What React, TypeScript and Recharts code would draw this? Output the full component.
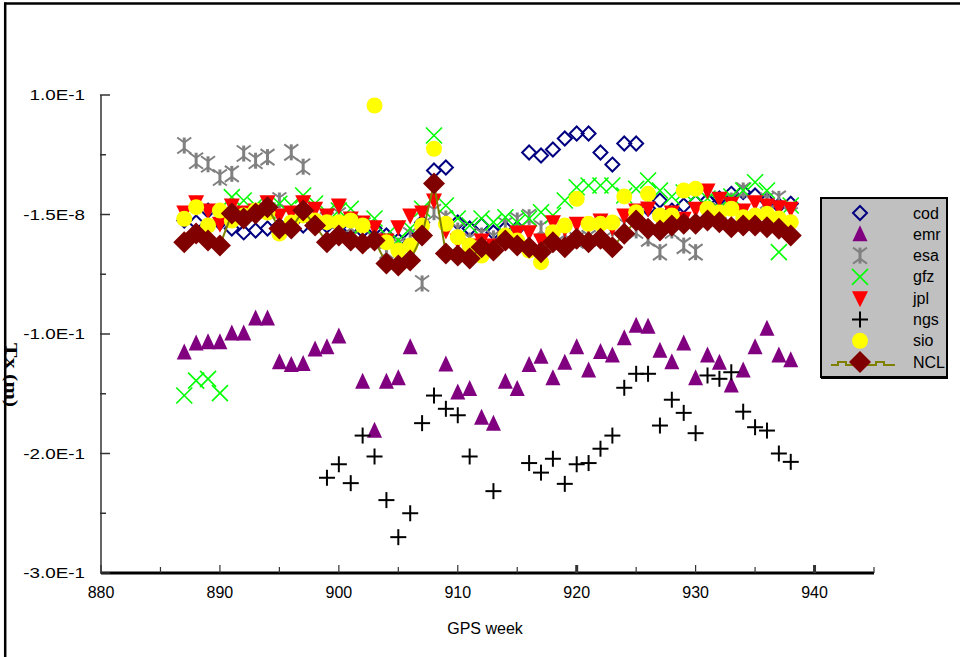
import React from 'react';
import { ScatterChart, Scatter, XAxis, YAxis, Legend } from 'recharts';

// ---------- data ----------
const weeks = [
  887, 888, 889, 890, 891, 892, 893, 894, 895, 896,
  897, 898, 899, 900, 901, 902, 903, 904, 905, 906,
  907, 908, 909, 910, 911, 912, 913, 914, 915, 916,
  917, 918, 919, 920, 921, 922, 923, 924, 925, 926,
  927, 928, 929, 930, 931, 932, 933, 934, 935, 936,
  937, 938,
];

const cod = [
  -0.005, -0.0067, 0.0033, -0.0067, -0.0117, -0.015, -0.0134, -0.0117, -0.0092, -0.0067,
  -0.0092, -0.005, -0.0092, -0.0067, -0.0117, -0.0134, -0.0117, -0.0176, -0.0218, -0.02,
  -0.0067, 0.0368, 0.0393, -0.0067, -0.0117, -0.0092, -0.015, -0.0117, -0.0117, 0.0519,
  0.0494, 0.0544, 0.0636, 0.0678, 0.0678, 0.0519, 0.0418, 0.0594, 0.0594, 0.005,
  0.0117, 0.0033, 0.0075, 0.01, 0.0117, 0.0134, 0.0173, 0.0187, 0.0159, 0.0117,
  0.0075, 0.009,
];

const emr = [
  -0.1155, -0.108, -0.107, -0.107, -0.0996, -0.0996, -0.087, -0.087, -0.1236, -0.126,
  -0.125, -0.113, -0.111, -0.102, null, -0.14, -0.181, -0.14, -0.137, -0.111,
  null, null, -0.1255, -0.149, -0.146, -0.17, -0.175, -0.14, -0.146, -0.126,
  -0.119, -0.137, -0.124, -0.111, -0.1305, -0.115, -0.118, -0.1035, -0.093, -0.094,
  -0.114, -0.1236, -0.108, -0.137, -0.118, -0.124, -0.143, -0.1305, -0.111, -0.0956,
  -0.118, -0.122,
];

const esa = [
  0.0577, 0.045, 0.042, 0.031, 0.034, 0.051, 0.045, 0.048, 0.0117, 0.052,
  0.04, 0.0033, -0.005, -0.0008, -0.0092, -0.0176, -0.0218, -0.0301, -0.026, -0.0176,
  -0.0577, 0.0019, -0.0033, -0.0134, -0.0218, -0.0176, -0.02, -0.0092, -0.005, -0.0023,
  -0.0117, -0.0176, -0.015, -0.0218, -0.02, -0.015, -0.0117, -0.0092, -0.0134, -0.02,
  -0.0315, -0.0134, -0.026, -0.0315, -0.0008, 0.0033, 0.0117, 0.0201, 0.0075, 0.0117,
  0.0131, -0.0008,
];

const gfz = [
  -0.1515, -0.139, -0.1375, -0.1495, 0.0145, 0.0117, 0.0075, 0.0033, 0.009, 0.0075,
  0.0159, 0.0092, 0.0017, 0.0033, 0.0048, -0.0092, -0.0033, -0.0176, -0.0218, -0.0117,
  0.0048, 0.0661, 0.0075, -0.0033, -0.0092, -0.0033, -0.0064, -0.0023, -0.0067, -0.0033,
  0.0019, -0.0008, 0.0117, 0.0228, 0.0243, 0.0243, 0.0243, 0.0159, 0.0215, 0.0285,
  0.0201, 0.0151, 0.0184, 0.0159, 0.0134, 0.01, 0.0151, 0.0201, 0.027, 0.0201,
  -0.0315, 0.0075,
];

const jpl = [
  0.0017, 0.0103, 0.0033, -0.0078, 0.0075, 0.0017, 0.0033, 0.0103, -0.0008, 0.0017,
  0.0103, 0.0048, -0.0008, 0.0075, -0.0033, -0.0067, -0.0106, -0.0218, -0.0106, -0.0008,
  0.0017, 0.0117, -0.0134, -0.0218, -0.026, -0.0218, -0.026, -0.02, -0.015, -0.0148,
  -0.0218, -0.0064, -0.0117, -0.0078, -0.0092, -0.005, -0.0106, -0.0008, 0.0033, 0.005,
  -0.005, 0.0017, -0.0036, 0.0048, 0.0201, 0.0131, 0.009, 0.0033, 0.0103, 0.0075,
  0.0061, 0.0048,
];

const ngs = [
  null, null, null, null, null, null, null, null, null, null,
  null, null, -0.2203, -0.209, -0.2248, -0.185, -0.2025, -0.239, -0.27, -0.25,
  -0.1746, -0.1515, -0.1626, -0.168, -0.2025, null, -0.2315, null, null, -0.208,
  -0.216, -0.2044, -0.2254, -0.209, -0.208, -0.196, -0.185, -0.145, -0.1333, -0.1333,
  -0.1766, -0.155, -0.166, -0.183, -0.1347, -0.1375, -0.132, -0.165, -0.178, -0.1808,
  -0.2, -0.207,
];

const sio = [
  -0.0036, 0.0061, -0.0092, 0.0033, -0.005, -0.0008, 0.0033, 0.0017, -0.0159, -0.0067,
  -0.0008, -0.005, -0.0064, -0.0064, -0.005, -0.0092, 0.0912, -0.0232, -0.0301, -0.026,
  -0.0092, 0.055, -0.0078, -0.019, -0.026, -0.0343, -0.0301, -0.0176, -0.0218, -0.0301,
  -0.0399, -0.0148, -0.0092, 0.0131, -0.0078, -0.0078, -0.0067, 0.0151, 0.0019, 0.0173,
  -0.0008, -0.0008, 0.0201, 0.0215, 0.0048, 0.0017, 0.0048, -0.0023, -0.0008, 0.0006,
  -0.0033, -0.0064,
];

const ncl = [
  -0.0232, -0.0159, -0.0218, -0.0259, 0.0008, -0.0033, 0.0008, 0.0061, -0.0117, -0.0117,
  0.0033, -0.0092, -0.0232, -0.0176, -0.0218, -0.0243, -0.0218, -0.041, -0.0427, -0.0385,
  -0.0176, 0.0259, -0.0326, -0.0343, -0.0368, -0.0274, -0.0301, -0.0218, -0.0259, -0.0276,
  -0.0315, -0.0232, -0.0274, -0.0203, -0.0232, -0.0203, -0.0274, -0.0162, -0.005, -0.012,
  -0.0134, -0.0092, -0.0078, -0.0078, -0.005, -0.0064, -0.0106, -0.0092, -0.0092, -0.0106,
  -0.012, -0.0176,
];

const seriesNames = ['cod', 'emr', 'esa', 'gfz', 'jpl', 'ngs', 'sio', 'NCL'];

const xTicks = [880, 885, 890, 895, 900, 905, 910, 915, 920, 925, 930, 935, 940, 945];
const xTickLabels = ['880', '', '890', '', '900', '', '910', '', '920', '', '930', '', '940', ''];
const yTicks = [0.1, 0.05, 0, -0.05, -0.1, -0.15, -0.2, -0.25, -0.3];
const yTickLabels = ['1.0E-1', '', '-1.5E-8', '', '-1.0E-1', '', '-2.0E-1', '', '-3.0E-1'];

const xTitle = 'GPS week';
const yTitle = 'Tx (m)';

// ---------- layout ----------
const W = 960;
const H = 657;
const PLOT_LEFT = 101;
const PLOT_TOP = 95;
const PLOT_RIGHT = 874;
const PLOT_BOTTOM = 573;
const X_AXIS_H = 30;
const SANS = '"Liberation Sans", Arial, Helvetica, sans-serif';
const SERIF = '"Liberation Serif", "Times New Roman", serif';

const toPoints = (vals: (number | null)[]) =>
  weeks
    .map((w, i) => ({ x: w, y: vals[i] }))
    .filter((p) => p.y !== null && p.y !== undefined);

// ---------- marker shapes ----------
const CodMark = ({ cx, cy }: any) => (
  <path
    d={`M${cx},${cy - 7} L${cx + 7},${cy} L${cx},${cy + 7} L${cx - 7},${cy} Z`}
    fill="none"
    stroke="#000080"
    strokeWidth={2}
  />
);
const EmrMark = ({ cx, cy }: any) => (
  <path
    d={`M${cx},${cy - 9} L${cx + 7.5},${cy + 7} L${cx - 7.5},${cy + 7} Z`}
    fill="#800080"
  />
);
const EsaMark = ({ cx, cy }: any) => (
  <g stroke="#808080" fill="none">
    <line x1={cx} y1={cy - 8} x2={cx} y2={cy + 8} strokeWidth={3} />
    <line x1={cx} y1={cy - 3} x2={cx - 7} y2={cy - 8} strokeWidth={2} />
    <line x1={cx} y1={cy - 3} x2={cx + 7} y2={cy - 8} strokeWidth={2} />
    <line x1={cx} y1={cy + 3} x2={cx - 7} y2={cy + 8} strokeWidth={2} />
    <line x1={cx} y1={cy + 3} x2={cx + 7} y2={cy + 8} strokeWidth={2} />
  </g>
);
const GfzMark = ({ cx, cy }: any) => (
  <g stroke="#00ff00" strokeWidth={1.6}>
    <line x1={cx - 8} y1={cy - 8} x2={cx + 8} y2={cy + 8} />
    <line x1={cx - 8} y1={cy + 8} x2={cx + 8} y2={cy - 8} />
  </g>
);
const JplMark = ({ cx, cy }: any) => (
  <path
    d={`M${cx - 8},${cy - 7} L${cx + 8},${cy - 7} L${cx},${cy + 9} Z`}
    fill="#ff0000"
  />
);
const NgsMark = ({ cx, cy }: any) => (
  <g stroke="#000" strokeWidth={2}>
    <line x1={cx - 8} y1={cy} x2={cx + 8} y2={cy} />
    <line x1={cx} y1={cy - 8} x2={cx} y2={cy + 8} />
  </g>
);
const SioMark = ({ cx, cy }: any) => <circle cx={cx} cy={cy} r={8} fill="#ffff00" />;
const NclMark = ({ cx, cy }: any) => (
  <path
    d={`M${cx},${cy - 11} L${cx + 11},${cy} L${cx},${cy + 11} L${cx - 11},${cy} Z`}
    fill="#800000"
  />
);

const markers: Record<string, (p: any) => React.ReactElement> = {
  cod: CodMark,
  emr: EmrMark,
  esa: EsaMark,
  gfz: GfzMark,
  jpl: JplMark,
  ngs: NgsMark,
  sio: SioMark,
  NCL: NclMark,
};

// ---------- axis ticks ----------
const renderYTick = (props: any) => {
  const { y, payload } = props;
  const idx = yTicks.findIndex((t) => Math.abs(t - payload.value) < 1e-9);
  const label = idx >= 0 ? yTickLabels[idx] : '';
  const major = label !== '';
  return (
    <g>
      <line
        x1={PLOT_LEFT - 1}
        x2={PLOT_LEFT + (major ? 9 : 5)}
        y1={y}
        y2={y}
        stroke="#333"
        strokeWidth={1.5}
      />
      {major && (
        <text
          transform={`translate(85,${y + 5}) scale(1.3,1)`}
          textAnchor="end"
          fontSize={14.5}
          fontFamily={SANS}
          fill="#000"
        >
          {label}
        </text>
      )}
    </g>
  );
};

const renderXTick = (props: any) => {
  const { x, payload } = props;
  const idx = xTicks.findIndex((t) => Math.abs(t - payload.value) < 1e-9);
  const label = idx >= 0 ? xTickLabels[idx] : '';
  const major = label !== '';
  const thick = payload.value === 920 || payload.value === 940;
  return (
    <g>
      <line
        x1={x}
        x2={x}
        y1={PLOT_BOTTOM}
        y2={PLOT_BOTTOM - (major ? 8 : 6)}
        stroke="#333"
        strokeWidth={thick ? 3 : 1.2}
      />
      {major && (
        <text x={x} y={PLOT_BOTTOM + 25} textAnchor="middle" fontSize={16} fontFamily={SANS} fill="#000">
          {label}
        </text>
      )}
    </g>
  );
};

// ---------- legend ----------
const LEG_W = 128;
const LEG_H = 183;
const LegendBox = () => (
  <svg width={LEG_W} height={LEG_H} style={{ display: 'block' }}>
    <rect x={1} y={1} width={LEG_W - 2} height={LEG_H - 4} fill="#c0c0c0" stroke="#000" strokeWidth={2} />
    <line x1={1} x2={LEG_W} y1={LEG_H - 2} y2={LEG_H - 2} stroke="#000" strokeWidth={2} />
    {seriesNames.map((name, i) => {
      const cy = 16 + i * 21.3;
      const Mark = markers[name];
      return (
        <g key={name}>
          {name === 'NCL' && (
            <g stroke="#808000" strokeWidth={2} fill="none">
              <polyline
                points={`11,${cy + 3} 18,${cy + 3} 18,${cy} 26,${cy} 26,${cy + 3} 34,${cy + 3} 34,${cy} 48,${cy} 48,${cy + 3} 56,${cy + 3} 56,${cy} 64,${cy} 64,${cy + 3} 75,${cy + 3}`}
              />
            </g>
          )}
          <Mark cx={40} cy={cy} />
          <text x={93} y={cy + 5.5} fontSize={16} fontFamily={SANS} fill="#000">
            {name}
          </text>
        </g>
      );
    })}
  </svg>
);

export default function App() {
  const data: Record<string, { x: number; y: number | null }[]> = {
    cod: toPoints(cod),
    emr: toPoints(emr),
    esa: toPoints(esa),
    gfz: toPoints(gfz),
    jpl: toPoints(jpl),
    ngs: toPoints(ngs),
    sio: toPoints(sio),
    NCL: toPoints(ncl),
  };

  return (
    <div style={{ position: 'absolute', left: 0, top: 0, width: W, height: H, background: '#fff' }}>
      <ScatterChart
        width={W}
        height={H}
        margin={{
          top: PLOT_TOP,
          right: W - PLOT_RIGHT,
          bottom: H - PLOT_BOTTOM - X_AXIS_H,
          left: 0,
        }}
      >
        <XAxis
          type="number"
          dataKey="x"
          domain={[880, 945]}
          ticks={xTicks}
          interval={0}
          height={X_AXIS_H}
          tickLine={false}
          axisLine={{ stroke: '#000', strokeWidth: 3 }}
          tick={renderXTick}
          allowDataOverflow
        />
        <YAxis
          type="number"
          dataKey="y"
          domain={[-0.3, 0.1]}
          ticks={yTicks}
          interval={0}
          width={PLOT_LEFT}
          tickLine={false}
          axisLine={{ stroke: '#333', strokeWidth: 1.5 }}
          tick={renderYTick}
          allowDataOverflow
        />
        <Legend
          layout="vertical"
          align="center"
          verticalAlign="middle"
          wrapperStyle={{ left: 820, top: 197, width: LEG_W, height: LEG_H }}
          content={() => <LegendBox />}
        />
        {seriesNames.map((name) => {
          const Mark = markers[name];
          if (name === 'NCL') {
            return (
              <Scatter
                key={name}
                name={name}
                data={data[name]}
                line={{ stroke: '#808000', strokeWidth: 2 }}
                lineType="joint"
                shape={(p: any) => <Mark cx={p.cx} cy={p.cy} />}
                isAnimationActive={false}
              />
            );
          }
          return (
            <Scatter
              key={name}
              name={name}
              data={data[name]}
              shape={(p: any) => <Mark cx={p.cx} cy={p.cy} />}
              isAnimationActive={false}
            />
          );
        })}
      </ScatterChart>
      <svg
        width={W}
        height={H}
        style={{ position: 'absolute', left: 0, top: 0, pointerEvents: 'none' }}
      >
        <line x1={4} x2={W} y1={3.5} y2={3.5} stroke="#000" strokeWidth={2.5} />
        <line x1={5.2} x2={5.2} y1={2.5} y2={H} stroke="#000" strokeWidth={2.5} />
        <text
          transform="translate(11,375) rotate(90)"
          textAnchor="middle"
          dominantBaseline="central"
          fontSize={16}
          fontWeight="bold"
          fontFamily={SERIF}
          textLength={64}
          lengthAdjust="spacingAndGlyphs"
          fill="#000"
        >
          {yTitle}
        </text>
        <text x={485} y={634} textAnchor="middle" fontSize={16} fontFamily={SANS} fill="#000">
          {xTitle}
        </text>
      </svg>
    </div>
  );
}
